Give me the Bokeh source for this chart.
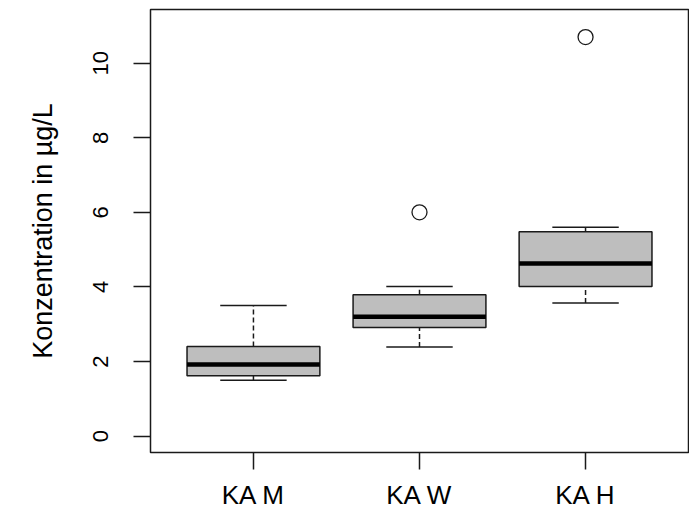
from bokeh.plotting import figure
from bokeh.models import Range1d, FixedTicker, ColumnDataSource
from bokeh.embed import file_html
from bokeh.resources import INLINE

# --- data ---
categories = ["KA M", "KA W", "KA H"]
whisker_low = [1.50, 2.39, 3.57]
q1 = [1.62, 2.91, 4.01]
medians = [1.92, 3.20, 4.63]
q3 = [2.40, 3.79, 5.48]
whisker_high = [3.50, 4.01, 5.60]
outlier_cat = ["KA W", "KA H"]
outlier_val = [6.00, 10.70]
y_ticks = [0, 2, 4, 6, 8, 10]

FONT = "Liberation Sans"
BOX_W = 0.8
CAP_W = 0.4

pos = [i + 1 for i in range(len(categories))]
src = ColumnDataSource(dict(
    x=pos,
    left=[x - BOX_W / 2 for x in pos],
    right=[x + BOX_W / 2 for x in pos],
    cl=[x - CAP_W / 2 for x in pos],
    cr=[x + CAP_W / 2 for x in pos],
    lo=whisker_low, q1=q1, med=medians, q3=q3, hi=whisker_high,
))
out_src = ColumnDataSource(dict(
    x=[categories.index(c) + 1 for c in outlier_cat],
    y=outlier_val,
))

p = figure(width=689, height=512, output_backend="svg", toolbar_location=None,
           x_range=Range1d(0.38, 3.62), y_range=Range1d(-0.44, 11.44),
           min_border_left=150, min_border_right=1, min_border_top=9,
           min_border_bottom=60)
p.background_fill_color = "white"
p.border_fill_color = "white"
p.outline_line_color = "#1a1a1a"
p.outline_line_width = 1.5
p.xgrid.visible = False
p.ygrid.visible = False

# whiskers (dashed)
p.segment(x0="x", y0="q3", x1="x", y1="hi", source=src, line_color="#1a1a1a",
          line_width=1.5, line_dash="5 3")
p.segment(x0="x", y0="lo", x1="x", y1="q1", source=src, line_color="#1a1a1a",
          line_width=1.5, line_dash="5 3")
# caps
p.segment(x0="cl", y0="hi", x1="cr", y1="hi", source=src, line_color="#1a1a1a", line_width=1.5)
p.segment(x0="cl", y0="lo", x1="cr", y1="lo", source=src, line_color="#1a1a1a", line_width=1.5)
# boxes
p.quad(left="left", right="right", bottom="q1", top="q3", source=src,
       fill_color="#bebebe", line_color="#1a1a1a", line_width=1.5)
# medians
p.segment(x0="left", y0="med", x1="right", y1="med", source=src,
          line_color="black", line_width=4.5)
# outliers
p.scatter(x="x", y="y", source=out_src, marker="circle", size=15,
          fill_color=None, line_color="#1a1a1a", line_width=1.3)

# axes
xa = p.xaxis[0]
xa.ticker = FixedTicker(ticks=pos)
xa.major_label_overrides = {x: c for x, c in zip(pos, categories)}
ya = p.yaxis[0]
ya.ticker = FixedTicker(ticks=y_ticks)
ya.major_label_orientation = "vertical"
ya.axis_label = "Konzentration in µg/L"

for ax in (xa, ya):
    ax.axis_line_color = None
    ax.major_tick_line_color = "#1a1a1a"
    ax.major_tick_line_width = 1.5
    ax.major_tick_out = 17
    ax.major_tick_in = 0
    ax.minor_tick_line_color = None
    ax.major_label_text_font = FONT
    ax.major_label_text_color = "black"
    ax.axis_label_text_font = FONT
    ax.axis_label_text_font_style = "normal"
    ax.axis_label_text_color = "black"

xa.major_label_text_font_size = "26px"
xa.major_label_standoff = 10
ya.major_label_text_font_size = "22px"
ya.major_label_standoff = 25
ya.axis_label_text_font_size = "27px"
ya.axis_label_standoff = 33

open("out.html", "w").write(file_html(p, INLINE))
